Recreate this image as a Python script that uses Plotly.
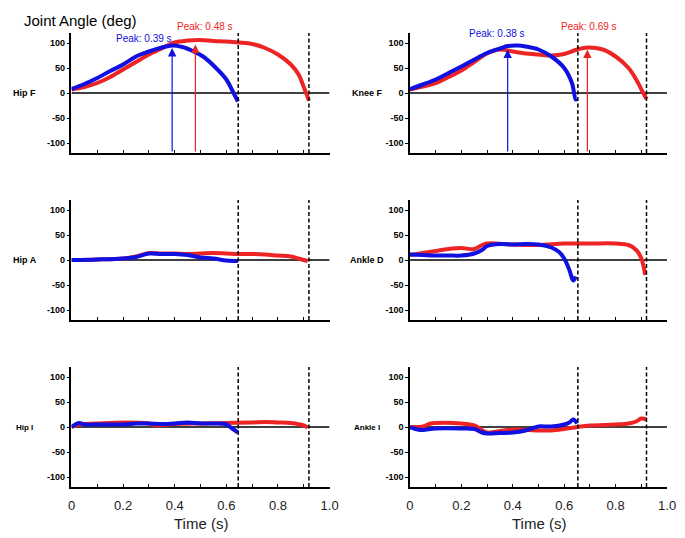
import plotly.graph_objects as go

W, H = 685, 538
WEFF = 677  # width the page actually lays the figure out at

# ---------------- data ----------------
panel_names = ["Hip F", "Knee F", "Hip A", "Ankle D", "Hip I", "Ankle I"]

hipF_blue_t = [0, 0.05, 0.1, 0.15, 0.2, 0.25, 0.3, 0.35, 0.39, 0.43, 0.47, 0.51, 0.56, 0.6, 0.625, 0.645]
hipF_blue_v = [8, 18, 30, 44, 57, 73, 83, 91, 95, 92, 84, 73, 50, 27, 3, -17]
hipF_red_t = [0, 0.05, 0.1, 0.15, 0.2, 0.25, 0.3, 0.35, 0.4, 0.45, 0.5, 0.55, 0.6, 0.65, 0.7, 0.75, 0.8, 0.85, 0.88, 0.9, 0.92]
hipF_red_v = [7, 12, 20, 32, 47, 62, 77, 89, 101, 105, 106, 104, 103, 101, 98, 90, 77, 57, 37, 12, -15]

kneeF_blue_t = [0, 0.05, 0.1, 0.15, 0.2, 0.25, 0.3, 0.35, 0.38, 0.42, 0.45, 0.5, 0.55, 0.6, 0.63, 0.645, 0.65]
kneeF_blue_v = [8, 17, 27, 40, 53, 67, 80, 89, 94, 95, 93, 87, 73, 50, 20, -13, -12]
kneeF_red_t = [0, 0.05, 0.1, 0.15, 0.2, 0.25, 0.3, 0.35, 0.4, 0.45, 0.5, 0.55, 0.6, 0.65, 0.69, 0.75, 0.8, 0.85, 0.88, 0.9, 0.92]
kneeF_red_v = [7, 13, 20, 32, 45, 62, 79, 87, 83, 79, 77, 75, 78, 87, 91, 87, 73, 50, 27, 7, -12]

hipA_blue_t = [0, 0.1, 0.2, 0.25, 0.3, 0.35, 0.4, 0.45, 0.5, 0.55, 0.6, 0.645]
hipA_blue_v = [0, 1, 3, 6, 13, 12, 12, 10, 5, 3, -1, -2]
hipA_red_t = [0, 0.1, 0.2, 0.25, 0.3, 0.35, 0.4, 0.45, 0.5, 0.55, 0.6, 0.65, 0.7, 0.75, 0.8, 0.85, 0.9, 0.915]
hipA_red_v = [0, 1, 3, 7, 14, 13, 13, 12, 13, 14, 13, 12, 12, 11, 9, 7, 0, -2]

ankleD_blue_t = [0, 0.05, 0.1, 0.15, 0.2, 0.25, 0.28, 0.3, 0.35, 0.4, 0.45, 0.5, 0.55, 0.58, 0.6, 0.62, 0.635, 0.645]
ankleD_blue_v = [11, 10, 9, 9, 9, 13, 20, 28, 32, 31, 32, 31, 25, 16, 3, -20, -41, -33]
ankleD_red_t = [0, 0.05, 0.1, 0.15, 0.2, 0.25, 0.28, 0.3, 0.4, 0.5, 0.6, 0.7, 0.8, 0.85, 0.88, 0.9, 0.915]
ankleD_red_v = [10, 14, 18, 22, 24, 22, 30, 33, 31, 30, 33, 33, 33, 30, 20, 3, -30]

hipI_blue_t = [0, 0.03, 0.05, 0.1, 0.2, 0.25, 0.3, 0.35, 0.4, 0.45, 0.5, 0.55, 0.6, 0.62, 0.645]
hipI_blue_v = [0, 8, 5, 5, 5, 7, 7, 6, 7, 9, 7, 7, 5, -2, -11]
hipI_red_t = [0, 0.03, 0.1, 0.2, 0.3, 0.33, 0.4, 0.5, 0.6, 0.7, 0.75, 0.8, 0.85, 0.9, 0.915]
hipI_red_v = [0, 5, 7, 9, 7, 3, 6, 7, 8, 9, 10, 9, 8, 3, -1]

ankleI_blue_t = [0, 0.03, 0.05, 0.1, 0.2, 0.25, 0.28, 0.3, 0.35, 0.4, 0.45, 0.48, 0.5, 0.55, 0.6, 0.62, 0.635, 0.65]
ankleI_blue_v = [0, -5, -6, -3, -3, -4, -11, -13, -12, -11, -7, -2, 1, 1, 5, 9, 15, 7]
ankleI_red_t = [0, 0.05, 0.08, 0.1, 0.2, 0.25, 0.3, 0.35, 0.4, 0.5, 0.55, 0.6, 0.65, 0.7, 0.8, 0.85, 0.88, 0.9, 0.92]
ankleI_red_v = [0, 1, 7, 8, 7, 3, -11, -8, -5, -7, -7, -4, 0, 3, 5, 7, 11, 17, 15]

blue_series = [(hipF_blue_t, hipF_blue_v), (kneeF_blue_t, kneeF_blue_v), (hipA_blue_t, hipA_blue_v),
               (ankleD_blue_t, ankleD_blue_v), (hipI_blue_t, hipI_blue_v), (ankleI_blue_t, ankleI_blue_v)]
red_series = [(hipF_red_t, hipF_red_v), (kneeF_red_t, kneeF_red_v), (hipA_red_t, hipA_red_v),
              (ankleD_red_t, ankleD_red_v), (hipI_red_t, hipI_red_v), (ankleI_red_t, ankleI_red_v)]

# end-of-trial markers (left column, right column)
end_times_left = [0.646, 0.92]
end_times_right = [0.653, 0.92]

# peaks: (time, arrow tip value, label)
peak_blue = {1: (0.39, 90, "Peak: 0.39 s"), 2: (0.38, 87, "Peak: 0.38 s")}
peak_red = {1: (0.48, 97, "Peak: 0.48 s"), 2: (0.69, 87, "Peak: 0.69 s")}

x_tick_vals = [0, 0.1, 0.2, 0.3, 0.4, 0.5, 0.6, 0.7, 0.8, 0.9, 1.0]
x_tick_text = ["0", "", "0.2", "", "0.4", "", "0.6", "", "0.8", "", "1.0"]
y_tick_vals = [-100, -50, 0, 50, 100]
y_tick_text = ["-100", "-50", "0", "50", "100"]

# ---------------- styling ----------------
BLUE = "#1010e0"
RED = "#ec2424"
col_px = [(68, 328), (409, 668)]
row_px = [(33, 153), (200, 320), (367, 487)]
label_x_px = [21, 366]
# peak label pixel centres
peak_label_px_blue = {1: (141, 38), 2: (497, 33)}
peak_label_px_red = {1: (202, 26), 2: (589, 26)}

fig = go.Figure()
annotations = []
shapes = []

for i in range(6):
    n = i + 1
    r, c = divmod(i, 2)
    xa = "x" if n == 1 else f"x{n}"
    ya = "y" if n == 1 else f"y{n}"
    xkey = "xaxis" if n == 1 else f"xaxis{n}"
    ykey = "yaxis" if n == 1 else f"yaxis{n}"
    x0, x1 = col_px[c]
    ytop, ybot = row_px[r]
    bottom = (r == 2)

    fig.update_layout({
        xkey: dict(domain=[x0 / WEFF, x1 / WEFF], anchor=ya, range=[0, 1.0],
                   showline=True, linecolor="black", linewidth=1.5,
                   ticks="inside", ticklen=3, tickwidth=1.2, tickcolor="black",
                   tickvals=x_tick_vals, ticktext=x_tick_text if bottom else [""] * 11,
                   showticklabels=bottom, tickfont=dict(family="Arial", size=13, color="#222"),
                   ticklabelstandoff=6,
                   showgrid=False, zeroline=False),
        ykey: dict(domain=[1 - ybot / H, 1 - ytop / H], anchor=xa, range=[-120, 120],
                   showline=True, linecolor="black", linewidth=1.5,
                   ticks="outside", ticklen=3, tickwidth=1.2, tickcolor="black",
                   tickvals=y_tick_vals, ticktext=[f"<b>{t}</b>" for t in y_tick_text],
                   tickfont=dict(family="Arial", size=9, color="black"),
                   showgrid=False, zeroline=False),
    })

    # zero line
    shapes.append(dict(type="line", xref=xa, yref=ya, x0=0, x1=1.0, y0=0, y1=0,
                       line=dict(color="black", width=1.5), layer="below"))
    # dashed end markers
    for et in (end_times_left if c == 0 else end_times_right):
        shapes.append(dict(type="line", xref=xa, yref=ya, x0=et, x1=et, y0=-120, y1=120,
                           line=dict(color="black", width=1.5, dash="4px,2.5px")))

    bt, bv = blue_series[i]
    rt, rv = red_series[i]
    fig.add_trace(go.Scatter(x=rt, y=rv, mode="lines", line=dict(color=RED, width=4, shape="spline"),
                             xaxis=xa, yaxis=ya, showlegend=False, hoverinfo="skip"))
    fig.add_trace(go.Scatter(x=bt, y=bv, mode="lines", line=dict(color=BLUE, width=4, shape="spline"),
                             xaxis=xa, yaxis=ya, showlegend=False, hoverinfo="skip"))

    # row label
    annotations.append(dict(text=f"<b>{panel_names[i]}</b>", xref="paper", yref=ya,
                            x=label_x_px[c] / WEFF, y=0, xanchor="center", yanchor="middle",
                            showarrow=False, font=dict(family="Arial", size=9 if r < 2 else 8, color="black")))

    if n in peak_blue:
        for pk, lp, colr in ((peak_blue[n], peak_label_px_blue[n], BLUE), (peak_red[n], peak_label_px_red[n], RED)):
            t, tip, lab = pk
            annotations.append(dict(x=t, y=tip, ax=t, ay=-120, xref=xa, yref=ya, axref=xa, ayref=ya,
                                    showarrow=True, arrowhead=2, arrowsize=1.4, arrowwidth=1.2,
                                    arrowcolor=colr, text=""))
            annotations.append(dict(x=lp[0] / WEFF, y=1 - lp[1] / H, xref="paper", yref="paper", text=lab,
                                    showarrow=False, xanchor="center", yanchor="middle",
                                    font=dict(family="Arial", size=10, color=colr)))

# title and axis titles
annotations.append(dict(text="Joint Angle (deg)", xref="paper", yref="paper", x=18 / WEFF, y=1 - 20 / H,
                        xanchor="left", yanchor="middle", showarrow=False,
                        font=dict(family="Arial", size=15, color="black")))
for c in range(2):
    x0, x1 = col_px[c]
    annotations.append(dict(text="Time (s)", xref="paper", yref="paper", x=(x0 + x1) / 2 / WEFF, y=1 - 523 / H,
                            xanchor="center", yanchor="middle", showarrow=False,
                            font=dict(family="Arial", size=15, color="#222")))

fig.update_layout(width=W, height=H, autosize=False, margin=dict(l=0, r=0, t=0, b=0),
                  paper_bgcolor="white", plot_bgcolor="white",
                  annotations=annotations, shapes=shapes)

post = (
    "document.documentElement.style.margin='0';"
    "document.documentElement.style.overflow='hidden';"
    "document.body.style.margin='0';"
    "document.body.style.overflow='hidden';"
)
fig.write_html("out.html", config={"displayModeBar": False}, post_script=post)
